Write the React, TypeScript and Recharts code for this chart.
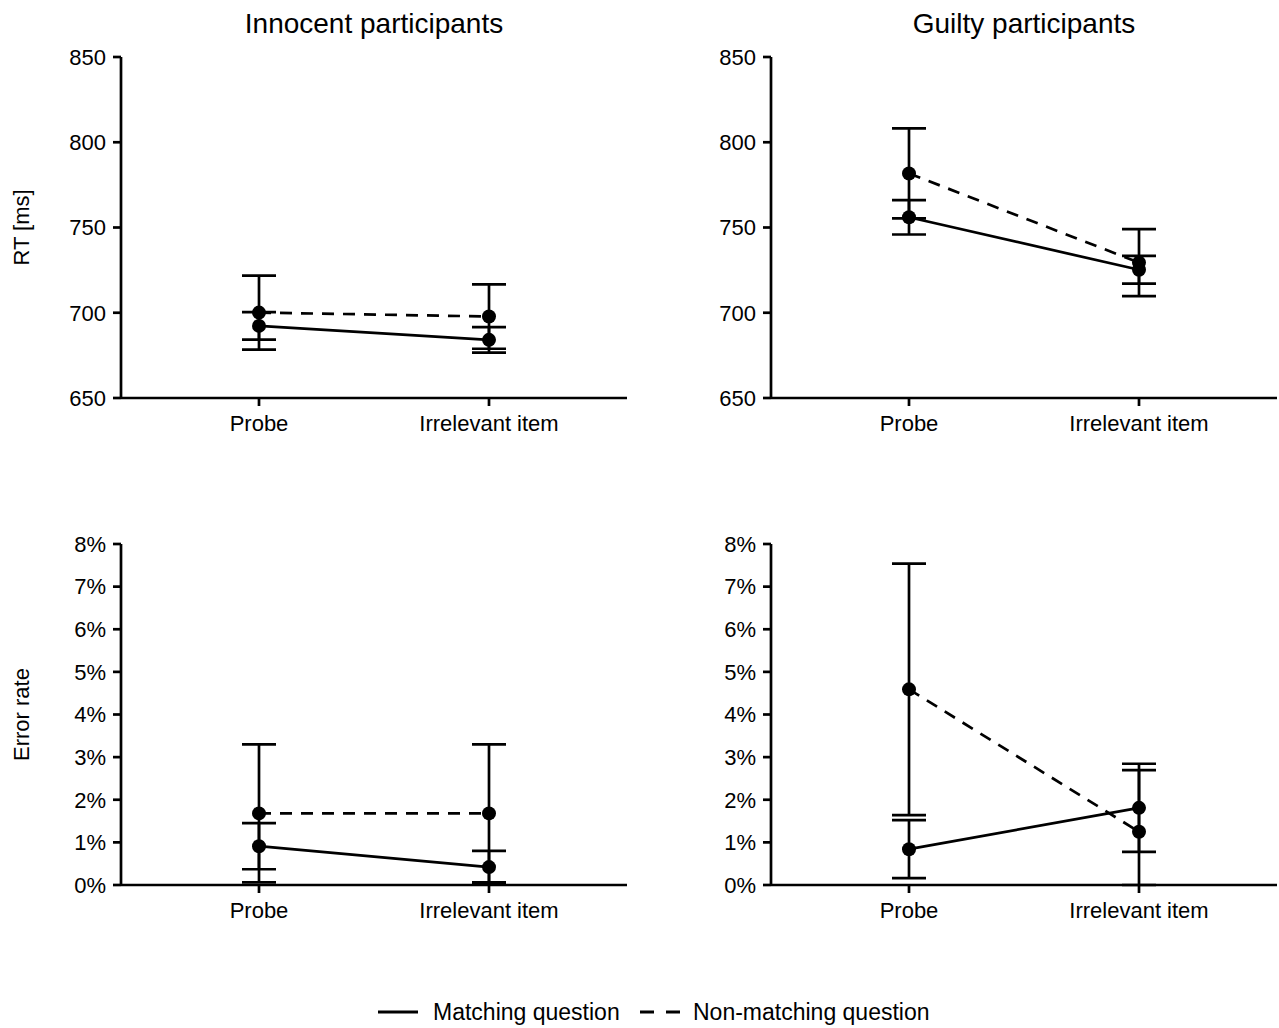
import React from "react";
import { LineChart, Line, XAxis, YAxis, ErrorBar } from "recharts";

// conditions on the x axis
const conditions = ["Probe", "Irrelevant item"];
const conditionX = [1, 2];

// reaction times (ms), mean and error
const innocentRtMatching = [692.3, 684.1];
const innocentRtMatchingErr = [8.1, 7.5];
const innocentRtNonMatching = [700.1, 697.8];
const innocentRtNonMatchingErr = [21.7, 18.9];

const guiltyRtMatching = [756.0, 725.2];
const guiltyRtMatchingErr = [10.1, 8.1];
const guiltyRtNonMatching = [781.7, 729.4];
const guiltyRtNonMatchingErr = [26.4, 19.7];

// error rates (%), mean and error
const innocentErrMatching = [0.91, 0.42];
const innocentErrMatchingErr = [0.54, 0.38];
const innocentErrNonMatching = [1.68, 1.68];
const innocentErrNonMatchingErr = [1.62, 1.62];

const guiltyErrMatching = [0.84, 1.81];
const guiltyErrMatchingErr = [0.68, 1.035];
const guiltyErrNonMatching = [4.59, 1.25];
const guiltyErrNonMatchingErr = [2.95, 1.445];

const rtTicks = [650, 700, 750, 800, 850];
const errTicks = [0, 1, 2, 3, 4, 5, 6, 7, 8];

const FONT = '"Liberation Sans", Arial, Helvetica, sans-serif';
const INK = "#000";
const SW = 2.7;

// error bars are cut off at the bottom of the axis, like in the original figure
function rows(m: number[], mErr: number[], n: number[], nErr: number[], floor: number) {
  return conditionX.map((x, i) => ({
    x,
    m: m[i],
    mErr: [Math.min(mErr[i], m[i] - floor), mErr[i]],
    n: n[i],
    nErr: [Math.min(nErr[i], n[i] - floor), nErr[i]],
  }));
}

type PanelProps = {
  left: number;
  top: number;
  data: any[];
  ticks: number[];
  yLabel?: string;
  fmt: (v: number) => string;
};

function Panel({ left, top, data, ticks, yLabel, fmt }: PanelProps) {
  const tickStyle = { fill: INK, fontSize: 22, fontFamily: FONT };
  return (
    <div style={{ position: "absolute", left, top }}>
      <LineChart width={629} height={460} data={data} margin={{ top: 57, right: 2, bottom: 0, left: 0 }}>
        <XAxis
          type="number"
          dataKey="x"
          domain={[0.4, 2.6]}
          ticks={conditionX}
          tickFormatter={(v) => conditions[v - 1]}
          height={62}
          tick={tickStyle}
          tickSize={8}
          tickMargin={9}
          axisLine={{ stroke: INK, strokeWidth: SW }}
          tickLine={{ stroke: INK, strokeWidth: SW }}
        />
        <YAxis
          type="number"
          domain={[ticks[0], ticks[ticks.length - 1]]}
          ticks={ticks}
          interval={0}
          allowDataOverflow
          width={121}
          tick={tickStyle}
          tickFormatter={fmt}
          tickSize={8}
          tickMargin={7}
          axisLine={{ stroke: INK, strokeWidth: SW }}
          tickLine={{ stroke: INK, strokeWidth: SW }}
          label={
            yLabel
              ? {
                  value: yLabel,
                  angle: -90,
                  position: "insideLeft",
                  offset: 21,
                  style: { textAnchor: "middle", fill: INK, fontSize: 22, fontFamily: FONT },
                }
              : undefined
          }
        />
        <Line
          type="linear"
          dataKey="n"
          name="Non-matching question"
          stroke={INK}
          strokeWidth={SW}
          strokeDasharray="12 9"
          dot={{ r: 7, fill: INK, stroke: INK, strokeWidth: 0 }}
          activeDot={false}
          isAnimationActive={false}
        >
          <ErrorBar dataKey="nErr" direction="y" width={17} stroke={INK} strokeWidth={SW} isAnimationActive={false} />
        </Line>
        <Line
          type="linear"
          dataKey="m"
          name="Matching question"
          stroke={INK}
          strokeWidth={SW}
          dot={{ r: 7, fill: INK, stroke: INK, strokeWidth: 0 }}
          activeDot={false}
          isAnimationActive={false}
        >
          <ErrorBar dataKey="mErr" direction="y" width={17} stroke={INK} strokeWidth={SW} isAnimationActive={false} />
        </Line>
      </LineChart>
    </div>
  );
}

function Title({ text, cx }: { text: string; cx: number }) {
  return (
    <div
      style={{
        position: "absolute",
        left: cx - 200,
        width: 400,
        top: 8,
        textAlign: "center",
        fontSize: 28,
        fontFamily: FONT,
        color: INK,
      }}
    >
      {text}
    </div>
  );
}

function Legend() {
  return (
    <svg style={{ position: "absolute", left: 0, top: 990 }} width={1279} height={38}>
      <line x1={378} x2={418} y1={22} y2={22} stroke={INK} strokeWidth={3} />
      <text x={433} y={30} fontSize={23} fontFamily={FONT} fill={INK}>
        Matching question
      </text>
      <line x1={640} x2={680} y1={22} y2={22} stroke={INK} strokeWidth={3} strokeDasharray="14 12" />
      <text x={693} y={30} fontSize={23} fontFamily={FONT} fill={INK}>
        Non-matching question
      </text>
    </svg>
  );
}

export default function App() {
  const rtFmt = (v: number) => String(v);
  const errFmt = (v: number) => `${v}%`;
  return (
    <div
      style={{
        position: "absolute",
        left: 0,
        top: 0,
        width: 1279,
        height: 1028,
        background: "#fff",
        fontFamily: FONT,
      }}
    >
      <Title text="Innocent participants" cx={374} />
      <Title text="Guilty participants" cx={1024} />
      <Panel
        left={0}
        top={0}
        data={rows(innocentRtMatching, innocentRtMatchingErr, innocentRtNonMatching, innocentRtNonMatchingErr, rtTicks[0])}
        ticks={rtTicks}
        yLabel="RT [ms]"
        fmt={rtFmt}
      />
      <Panel
        left={650}
        top={0}
        data={rows(guiltyRtMatching, guiltyRtMatchingErr, guiltyRtNonMatching, guiltyRtNonMatchingErr, rtTicks[0])}
        ticks={rtTicks}
        fmt={rtFmt}
      />
      <Panel
        left={0}
        top={487}
        data={rows(innocentErrMatching, innocentErrMatchingErr, innocentErrNonMatching, innocentErrNonMatchingErr, errTicks[0])}
        ticks={errTicks}
        yLabel="Error rate"
        fmt={errFmt}
      />
      <Panel
        left={650}
        top={487}
        data={rows(guiltyErrMatching, guiltyErrMatchingErr, guiltyErrNonMatching, guiltyErrNonMatchingErr, errTicks[0])}
        ticks={errTicks}
        fmt={errFmt}
      />
      <Legend />
    </div>
  );
}
